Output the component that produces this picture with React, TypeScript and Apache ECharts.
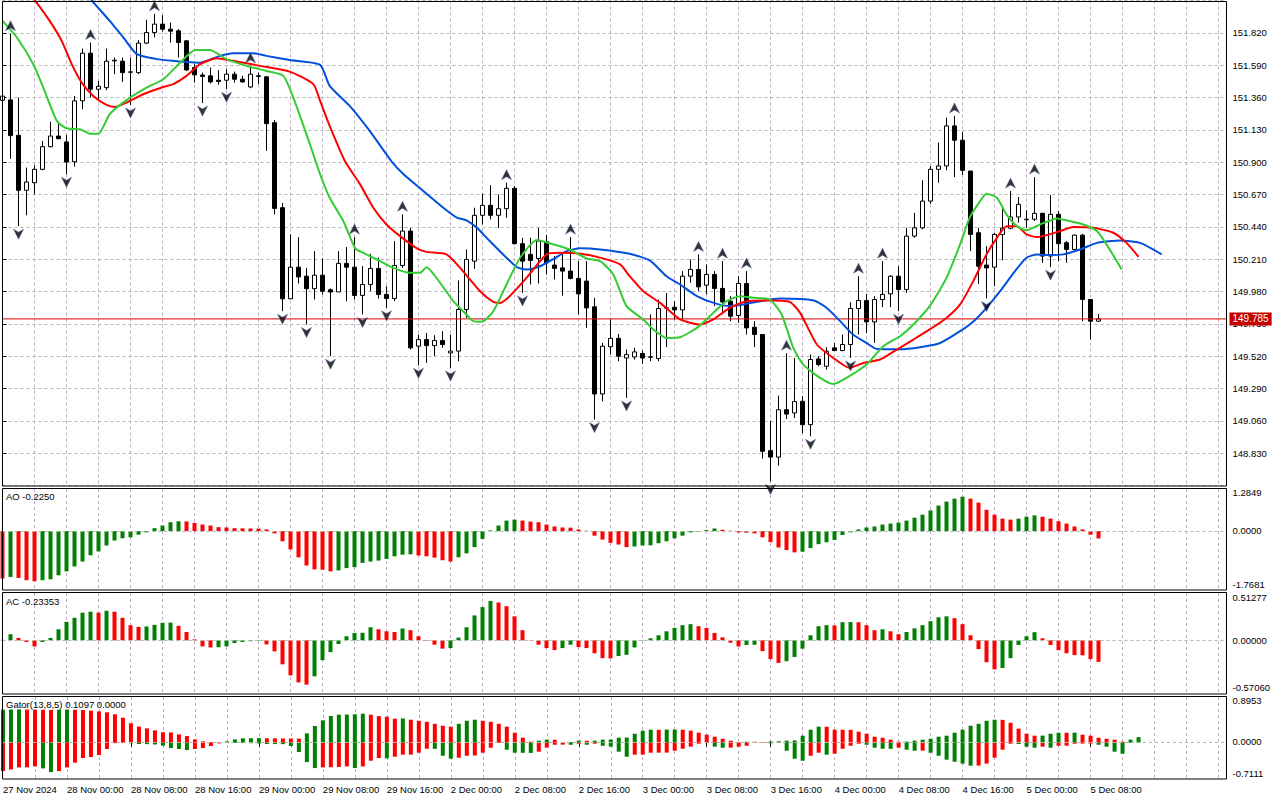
import React, { useEffect, useRef } from "react";
import * as echarts from "echarts";

// ---------- DATA ----------
const NB = 154; // bar slots across the plot (1 bar = 1 hour)

const xTickLabels = [
  "27 Nov 2024", "28 Nov 00:00", "28 Nov 08:00", "28 Nov 16:00", "29 Nov 00:00", "29 Nov 08:00",
  "29 Nov 16:00", "2 Dec 00:00", "2 Dec 08:00", "2 Dec 16:00", "3 Dec 00:00", "3 Dec 08:00",
  "3 Dec 16:00", "4 Dec 00:00", "4 Dec 08:00", "4 Dec 16:00", "5 Dec 00:00", "5 Dec 08:00",
];

// [open, close, low, high]
const candles: number[][] = [
  [151.34, 151.37, 151.30, 151.40], [151.343, 151.089, 150.923, 151.813], [151.091, 150.70, 150.445, 151.359],
  [150.70, 150.759, 150.522, 150.861], [150.754, 150.849, 150.671, 150.878], [150.849, 151.01, 150.842, 151.051],
  [151.01, 151.086, 151.005, 151.188], [151.086, 151.067, 151.063, 151.177], [151.044, 150.901, 150.814, 151.093],
  [150.903, 151.336, 150.868, 151.371], [151.336, 151.675, 151.277, 151.708], [151.675, 151.419, 151.359, 151.751],
  [151.419, 151.44, 151.336, 151.478], [151.43, 151.618, 151.412, 151.708], [151.62, 151.625, 151.526, 151.644],
  [151.618, 151.537, 151.471, 151.644], [151.54, 151.542, 151.307, 151.644], [151.537, 151.747, 151.526, 151.768],
  [151.747, 151.822, 151.74, 151.913], [151.822, 151.882, 151.787, 151.955], [151.882, 151.846, 151.829, 151.946],
  [151.846, 151.832, 151.751, 151.893], [151.834, 151.751, 151.644, 151.846], [151.763, 151.556, 151.549, 151.768],
  [151.573, 151.521, 151.466, 151.597], [151.52, 151.51, 151.32, 151.537], [151.514, 151.471, 151.459, 151.573],
  [151.483, 151.474, 151.45, 151.554], [151.483, 151.526, 151.419, 151.561], [151.526, 151.49, 151.466, 151.544],
  [151.49, 151.471, 151.466, 151.514], [151.435, 151.526, 151.426, 151.585], [151.51, 151.515, 151.455, 151.537],
  [151.507, 151.174, 150.98, 151.514], [151.181, 150.571, 150.529, 151.2], [150.576, 149.928, 149.84, 150.61],
  [149.928, 150.153, 149.93, 150.386], [150.153, 150.084, 150.037, 150.367], [150.089, 150.0, 149.745, 150.148],
  [150.0, 150.096, 149.923, 150.267], [150.096, 149.982, 149.959, 150.215], [149.992, 149.976, 149.52, 150.002],
  [149.977, 150.18, 149.977, 150.267], [150.18, 150.153, 149.911, 150.296], [150.153, 149.952, 149.923, 150.367],
  [149.952, 150.03, 149.817, 150.161], [150.03, 150.144, 149.982, 150.248], [150.144, 149.959, 149.93, 150.22],
  [149.959, 149.93, 149.864, 150.018], [149.93, 150.165, 149.911, 150.339], [150.165, 150.41, 150.148, 150.529],
  [150.41, 149.579, 149.567, 150.433], [149.591, 149.638, 149.455, 149.674], [149.638, 149.595, 149.472, 149.685],
  [149.595, 149.631, 149.52, 149.669], [149.631, 149.603, 149.579, 149.698], [149.543, 149.556, 149.436, 149.674],
  [149.556, 149.852, 149.484, 150.059], [149.852, 150.208, 149.792, 150.279], [150.196, 150.522, 150.141, 150.576],
  [150.522, 150.593, 150.457, 150.676], [150.593, 150.522, 150.493, 150.737], [150.522, 150.569, 150.433, 150.671],
  [150.569, 150.714, 150.504, 150.754], [150.714, 150.32, 150.315, 150.73], [150.32, 150.196, 149.97, 150.362],
  [150.244, 150.201, 150.03, 150.362], [150.215, 150.339, 150.037, 150.433], [150.334, 150.184, 150.101, 150.381],
  [150.168, 150.144, 150.066, 150.232], [150.148, 150.125, 149.95, 150.26], [150.125, 150.073, 150.066, 150.367],
  [150.073, 149.963, 149.817, 150.196], [150.054, 149.863, 149.721, 150.196], [149.871, 149.251, 149.069, 149.935],
  [149.251, 149.591, 149.199, 149.614], [149.587, 149.647, 149.532, 149.781], [149.647, 149.52, 149.484, 149.678],
  [149.507, 149.531, 149.223, 149.567], [149.514, 149.55, 149.496, 149.579], [149.539, 149.507, 149.465, 149.56],
  [149.515, 149.513, 149.484, 149.817], [149.503, 149.859, 149.484, 149.923], [149.862, 149.864, 149.584, 149.97],
  [149.868, 149.849, 149.781, 149.911], [149.849, 150.089, 149.781, 150.125], [150.089, 150.137, 150.042, 150.208],
  [150.137, 150.013, 149.982, 150.244], [150.025, 150.101, 149.959, 150.172], [150.101, 150.002, 149.876, 150.125],
  [150.002, 149.906, 149.817, 150.196], [149.911, 149.804, 149.769, 149.947], [149.809, 150.037, 149.757, 150.089],
  [150.037, 149.721, 149.674, 150.125], [149.726, 149.674, 149.584, 149.769], [149.674, 148.843, 148.791, 149.678],
  [148.848, 148.802, 148.629, 149.061], [148.802, 149.139, 148.741, 149.239], [149.139, 149.108, 149.073, 149.541],
  [149.116, 149.197, 149.08, 149.507], [149.199, 149.033, 148.973, 149.235], [149.033, 149.496, 148.95, 149.532],
  [149.5, 149.46, 149.448, 149.52], [149.448, 149.555, 149.425, 149.584], [149.579, 149.56, 149.56, 149.614],
  [149.56, 149.603, 149.555, 149.674], [149.603, 149.859, 149.507, 149.904], [149.859, 149.916, 149.674, 150.089],
  [149.916, 149.764, 149.685, 149.963], [149.764, 149.923, 149.614, 149.947], [149.923, 149.959, 149.868, 150.196],
  [149.963, 150.089, 149.868, 150.096], [150.089, 149.994, 149.84, 150.16], [149.994, 150.374, 149.97, 150.433],
  [150.374, 150.433, 150.362, 150.54], [150.433, 150.623, 150.422, 150.771], [150.623, 150.849, 150.604, 150.873],
  [150.849, 150.873, 150.754, 151.039], [150.873, 151.158, 150.842, 151.217], [151.158, 151.056, 150.794, 151.229],
  [151.056, 150.842, 150.809, 151.117], [150.837, 150.386, 150.267, 150.837], [150.398, 150.16, 150.034, 150.433],
  [150.168, 150.148, 149.93, 150.303], [150.153, 150.386, 150.018, 150.398], [150.386, 150.43, 150.201, 150.588],
  [150.43, 150.51, 150.422, 150.695], [150.51, 150.6, 150.469, 150.652], [150.49, 150.494, 150.433, 150.557],
  [150.494, 150.536, 150.481, 150.794], [150.536, 150.232, 150.184, 150.54], [150.232, 150.529, 150.153, 150.666],
  [150.529, 150.32, 150.196, 150.552], [150.327, 150.279, 150.184, 150.339], [150.279, 150.381, 150.274, 150.386],
  [150.381, 149.923, 149.769, 150.39], [149.923, 149.769, 149.638, 149.923], [149.769, 149.785, 149.764, 149.82],
];

const lastPrice = 149.785;

const upFractals = [1, 11, 19, 31, 44, 50, 63, 71, 87, 90, 93, 98, 107, 110, 119, 126, 129];
const downFractals = [2, 8, 16, 25, 28, 35, 38, 41, 45, 48, 52, 56, 65, 74, 78, 96, 101, 106, 112, 123, 131];

// Alligator lines: [bar position, price]
const jawPoints = [
  [0, 152.75], [5, 152.45], [9, 152.2], [11.2, 152.048], [13.4, 151.905], [15.1, 151.787], [16.8, 151.668],
  [19.3, 151.633], [21.3, 151.621], [24.7, 151.608], [27.2, 151.656], [28.8, 151.675], [31.3, 151.675],
  [33, 151.656], [35.9, 151.626], [39.7, 151.592], [40.9, 151.443], [43.4, 151.3], [45.9, 151.122],
  [48.6, 150.908], [50.1, 150.816], [52.6, 150.695], [55.1, 150.576], [56.8, 150.505], [58, 150.486],
  [59.3, 150.433], [60.9, 150.339], [63, 150.22], [64.3, 150.153], [65.5, 150.137], [67.2, 150.16],
  [68.8, 150.208], [70.5, 150.267], [72.2, 150.287], [74.7, 150.279], [78.4, 150.248], [80.9, 150.201],
  [83, 150.089], [84.7, 150.03], [86.8, 149.947], [88.9, 149.899], [90.9, 149.876], [92.6, 149.888],
  [94.7, 149.911], [97.2, 149.93], [101.4, 149.916], [103, 149.864], [104.7, 149.769], [106.3, 149.674],
  [108, 149.614], [109.3, 149.571], [112.2, 149.569], [114.7, 149.584], [117.2, 149.614], [119.7, 149.698],
  [121.4, 149.769], [123, 149.864], [124.7, 149.982], [126.4, 150.113], [128, 150.22], [129.3, 150.244],
  [130.5, 150.239], [132.6, 150.244], [134.7, 150.279], [136.8, 150.326], [139.7, 150.343], [142.2, 150.326],
  [144.9, 150.244],
];
const teethPoints = [
  [0, 152.35], [2, 152.2], [4.1, 152.048], [5.9, 151.905], [7.4, 151.763], [8.65, 151.597], [9.9, 151.466],
  [11.35, 151.371], [13, 151.307], [14.1, 151.293], [15.5, 151.324], [17.6, 151.383], [20.1, 151.435],
  [21.35, 151.455], [23, 151.514], [24.7, 151.597], [26.8, 151.64], [28.8, 151.621], [32.2, 151.585],
  [35.9, 151.544], [38.85, 151.455], [39.7, 151.336], [40.9, 151.158], [42.8, 150.908], [44.7, 150.742],
  [46.35, 150.576], [48, 150.457], [49.7, 150.374], [51.8, 150.287], [53, 150.262], [55.5, 150.244],
  [57.2, 150.148], [59.7, 149.982], [61.35, 149.906], [62.2, 149.899], [63.4, 149.947], [65.5, 150.077],
  [68, 150.244], [69.7, 150.255], [72.2, 150.248], [74.7, 150.221], [77.2, 150.173], [78.4, 150.089],
  [80.1, 149.982], [82.2, 149.899], [84.7, 149.781], [87.2, 149.745], [88.85, 149.781], [90.9, 149.864],
  [93, 149.911], [95.5, 149.916], [98.4, 149.906], [99.7, 149.828], [101.8, 149.603], [103.85, 149.507],
  [105.9, 149.436], [107.6, 149.472], [109.7, 149.496], [111.8, 149.567], [113.85, 149.638], [115.9, 149.71],
  [118, 149.792], [119.7, 149.888], [121.35, 150.054], [123, 150.244], [124.3, 150.362], [125.5, 150.445],
  [126.8, 150.445], [128, 150.386], [129.3, 150.367], [130.5, 150.381], [132.2, 150.41], [133.85, 150.438],
  [136.35, 150.433], [138.85, 150.398], [140.5, 150.326], [142, 150.227],
];
const lipsPoints = [
  [0, 151.905], [1.8, 151.787], [3.85, 151.597], [5.1, 151.43], [6.8, 151.193], [8, 151.141], [9.7, 151.134],
  [10.9, 151.103], [12, 151.103], [13.4, 151.241], [15.5, 151.341], [18, 151.43], [20.1, 151.49],
  [22.2, 151.608], [24.1, 151.697], [25.9, 151.697], [28, 151.633], [30.5, 151.585], [33, 151.549],
  [35.1, 151.514], [36.35, 151.359], [38, 151.098], [39.7, 150.814], [40.9, 150.647], [42.6, 150.481],
  [44.1, 150.287], [45.5, 150.244], [47.2, 150.196], [48.85, 150.148], [50.9, 150.113], [52.2, 150.113],
  [53, 150.153], [54.7, 150.042], [56.35, 149.911], [58, 149.816], [58.85, 149.769], [59.9, 149.764],
  [61.35, 149.84], [63, 150.03], [64.7, 150.22], [66.8, 150.346], [68.85, 150.315], [70.9, 150.279],
  [73, 150.215], [74.7, 150.196], [76.35, 150.101], [78, 149.876], [80.1, 149.781], [81.35, 149.71],
  [83, 149.65], [84.7, 149.655], [86.8, 149.721], [88.4, 149.804], [90.5, 149.911], [92.2, 149.947],
  [93.85, 149.935], [95.9, 149.923], [97.4, 149.816], [98.85, 149.579], [100.1, 149.46], [102.2, 149.365],
  [103.85, 149.322], [105.5, 149.365], [108, 149.46], [110.1, 149.591], [112.2, 149.662], [113.85, 149.745],
  [115.9, 149.876], [118, 150.077], [119.7, 150.315], [120.9, 150.505], [122.2, 150.623], [123, 150.676],
  [124.3, 150.647], [125.5, 150.529], [126.8, 150.445], [128, 150.415], [129.7, 150.457], [131.8, 150.5],
  [133.4, 150.481], [135.1, 150.457], [136.8, 150.41], [138, 150.315], [139.9, 150.137],
];

// Awesome Oscillator
const aoValues = [
  -1.45, -1.40, -1.43, -1.50, -1.53, -1.50, -1.47, -1.35, -1.23, -1.08,
  -0.93, -0.74, -0.62, -0.44, -0.29, -0.22, -0.19, -0.11, -0.04, 0.09,
  0.17, 0.27, 0.30, 0.295, 0.25, 0.20, 0.17, 0.12, 0.11, 0.09,
  0.085, 0.08, 0.075, 0.05, -0.07, -0.31, -0.56, -0.80, -1.05, -1.17,
  -1.18, -1.23, -1.20, -1.13, -1.10, -0.97, -0.93, -0.90, -0.85, -0.77,
  -0.72, -0.71, -0.745, -0.77, -0.81, -0.89, -0.93, -0.80, -0.68, -0.49,
  -0.24, 0.02, 0.17, 0.32, 0.35, 0.32, 0.29, 0.27, 0.20, 0.14,
  0.11, 0.105, 0.05, 0.01, -0.14, -0.26, -0.36, -0.41, -0.49, -0.47,
  -0.44, -0.435, -0.37, -0.31, -0.22, -0.14, -0.04, -0.02, 0.03, 0.08,
  0.04, 0.01, -0.04, -0.05, -0.07, -0.19, -0.34, -0.50, -0.58, -0.65,
  -0.63, -0.52, -0.40, -0.34, -0.27, -0.12, -0.04, 0.05, 0.11, 0.14,
  0.20, 0.23, 0.26, 0.32, 0.41, 0.50, 0.63, 0.78, 0.90, 0.99,
  1.05, 0.99, 0.87, 0.65, 0.50, 0.38, 0.35, 0.38, 0.44, 0.48,
  0.44, 0.38, 0.30, 0.23, 0.14, 0.05, -0.11, -0.225,
];
const aoColors = [
  "rgrrrggggg", "gggggggggg", "gggrrrrrrr", "rrrrrrrrrr", "rrgggggggg", "ggrrrrrggg", "gggggrrrrr",
  "rrrrrrrrrg", "gggggggggg", "rrrrrrrrrr", "gggggggggg", "gggggggggg", "grrrrrrggg", "rrrrrrrr",
].join("");

// Accelerator Oscillator
const acValues = [
  0.005, 0.066, 0.026, -0.018, -0.066, -0.018, 0.026, 0.12, 0.20, 0.244,
  0.30, 0.31, 0.30, 0.32, 0.31, 0.244, 0.164, 0.146, 0.15, 0.168,
  0.19, 0.192, 0.157, 0.09, 0.01, -0.066, -0.077, -0.075, -0.066, -0.03,
  -0.018, -0.01, -0.005, -0.044, -0.12, -0.26, -0.38, -0.456, -0.48, -0.39,
  -0.215, -0.128, -0.04, 0.044, 0.08, 0.082, 0.142, 0.12, 0.098, 0.09,
  0.128, 0.11, 0.044, -0.005, -0.047, -0.09, -0.084, 0.03, 0.142, 0.27,
  0.36, 0.427, 0.41, 0.37, 0.26, 0.11, 0.003, -0.047, -0.084, -0.106,
  -0.084, -0.047, -0.073, -0.084, -0.14, -0.193, -0.196, -0.17, -0.157, -0.077,
  0.004, 0.022, 0.055, 0.098, 0.135, 0.164, 0.175, 0.153, 0.135, 0.08,
  0.033, -0.026, -0.066, -0.05, -0.048, -0.117, -0.204, -0.244, -0.226, -0.18,
  -0.09, 0.055, 0.153, 0.164, 0.162, 0.197, 0.198, 0.196, 0.164, 0.11,
  0.12, 0.098, 0.066, 0.09, 0.13, 0.164, 0.208, 0.25, 0.26, 0.24,
  0.175, 0.055, -0.095, -0.237, -0.314, -0.30, -0.193, -0.05, 0.044, 0.088,
  0.022, -0.05, -0.106, -0.14, -0.16, -0.162, -0.204, -0.2335,
];
const acColors = [
  "rgrrrggggg", "ggrgrrrrgg", "ggrrrrrggg", "gggrrrrrrg", "gggggggrrr", "grrrrrgggg", "ggrrrrrrrr",
  "ggrrrrrggg", "gggggggrrr", "rrrggrrrgg", "ggggrggrrr", "grrggggggr", "rrrrrggggg", "rrrrrrrr",
].join("");

// Gator Oscillator
const gatorUp = [
  0.647, 0.65, 0.652, 0.648, 0.646, 0.644, 0.642, 0.645, 0.648, 0.645,
  0.64, 0.627, 0.614, 0.595, 0.556, 0.49, 0.38, 0.314, 0.281, 0.242,
  0.205, 0.20, 0.163, 0.13, 0.065, 0.026, 0.013, 0.006, 0.026, 0.065,
  0.085, 0.087, 0.089, 0.087, 0.085, 0.083, 0.082, 0.08, 0.183, 0.327,
  0.438, 0.523, 0.549, 0.552, 0.556, 0.569, 0.549, 0.52, 0.51, 0.47,
  0.475, 0.45, 0.43, 0.41, 0.37, 0.333, 0.314, 0.37, 0.43, 0.45,
  0.43, 0.41, 0.37, 0.314, 0.196, 0.098, 0.02, 0.04, 0.06, 0.058,
  0.01, 0.015, 0.04, 0.038, 0.04, 0.06, 0.062, 0.098, 0.1, 0.176,
  0.235, 0.255, 0.252, 0.256, 0.258, 0.255, 0.235, 0.196, 0.157, 0.118,
  0.078, 0.04, 0.005, 0.02, 0.018, 0.007, 0.026, 0.028, 0.04, 0.045,
  0.137, 0.255, 0.314, 0.312, 0.255, 0.254, 0.252, 0.216, 0.176, 0.118,
  0.098, 0.06, 0.02, 0.022, 0.04, 0.06, 0.078, 0.118, 0.137, 0.196,
  0.255, 0.333, 0.37, 0.43, 0.45, 0.448, 0.39, 0.275, 0.176, 0.137,
  0.139, 0.176, 0.196, 0.194, 0.197, 0.157, 0.137, 0.098, 0.078, 0.06,
  0.02, 0.06, 0.1097,
];
const gatorUpColors = [
  "gggrrrrggr", "rrrrrrrrrr", "rrrrrrrrgg", "gggrrrrrgg", "ggggggrrrr", "grrrrrrggg", "rrrrrrrggr",
  "rggrgggggg", "ggrggrrrrr", "rrrgrrgggg", "gggrrrrrrr", "rrrggggggg", "gggggrrrrr", "gggrgrrrrr", "rgg",
].join("");
const gatorDown = [
  -0.556, -0.523, -0.484, -0.482, -0.464, -0.503, -0.575, -0.556, -0.484, -0.392,
  -0.30, -0.281, -0.242, -0.124, -0.01, -0.005, -0.012, -0.026, -0.028, -0.035,
  -0.059, -0.105, -0.124, -0.144, -0.124, -0.105, -0.065, -0.013, -0.004, -0.006,
  -0.008, -0.01, -0.015, -0.026, -0.027, -0.028, -0.065, -0.183, -0.379, -0.497,
  -0.484, -0.48, -0.475, -0.464, -0.497, -0.464, -0.353, -0.30, -0.307, -0.275,
  -0.235, -0.233, -0.196, -0.118, -0.12, -0.255, -0.314, -0.294, -0.255, -0.25,
  -0.196, -0.098, -0.005, -0.137, -0.196, -0.198, -0.20, -0.176, -0.098, -0.04,
  -0.038, -0.04, -0.02, -0.04, -0.02, -0.06, -0.078, -0.176, -0.275, -0.235,
  -0.234, -0.196, -0.195, -0.194, -0.157, -0.118, -0.078, -0.02, -0.005, -0.078,
  -0.098, -0.097, -0.078, -0.06, -0.005, -0.003, -0.012, -0.004, -0.157, -0.314,
  -0.353, -0.255, -0.196, -0.235, -0.216, -0.118, -0.06, -0.02, -0.04, -0.098,
  -0.118, -0.12, -0.098, -0.137, -0.157, -0.155, -0.196, -0.255, -0.333, -0.373,
  -0.41, -0.45, -0.448, -0.41, -0.294, -0.137, -0.02, -0.025, -0.078, -0.098,
  -0.078, -0.098, -0.06, -0.058, -0.02, -0.018, -0.016, -0.04, -0.078, -0.176,
  -0.216,
];
const gatorDownColors = [
  "rrrrrggrrr", "rrrrrrgggg", "ggggrrrrrg", "gggggggggg", "rrrrgrrrgr", "rrrrgggrrr", "rrrggggrrr",
  "rgrgrggggr", "rrrrrrrrrg", "grrrrrgrgg", "grrgrrrrgg", "ggrggrgggg", "ggrrrrrggg", "rgrrrrrggg", "g",
].join("");

// ---------- STYLE ----------
const FONT = "'Liberation Sans', Arial, sans-serif";
const FS = 9.5;
const GREEN = "#008000";
const RED = "#ff0000";
const PRICE_RED = "#dd0000";
const VGRID = "#c4aac4";
const HGRID = "#a9bba9";
const GL = 2.5;
const GW = 1224;

const catNames = Array.from({ length: NB }, (_, i) => String(i));
const labelAt = (i: number) => (i % 8 === 0 && i / 8 < xTickLabels.length ? xTickLabels[i / 8] : "");

const colored = (vals: number[], cols: string) =>
  vals.map((v, i) => ({ value: v, itemStyle: { color: cols[i] === "g" ? GREEN : RED } }));

function buildOption(): any {
  const grids = [
    { left: GL, top: 0.5, width: GW, height: 485 },
    { left: GL, top: 489, width: GW, height: 100 },
    { left: GL, top: 593, width: GW, height: 100 },
    { left: GL, top: 697, width: GW, height: 82 },
  ];
  const catAxes = grids.map((_, gi) => ({
    type: "category",
    gridIndex: gi,
    data: catNames,
    boundaryGap: false,
    axisLine: { show: false },
    axisTick: {
      show: gi === 3,
      interval: (i: number) => i > 0 && labelAt(i) !== "",
      length: 4,
      lineStyle: { color: "#000" },
    },
    axisLabel: {
      show: gi === 3,
      interval: (i: number) => labelAt(i) !== "",
      formatter: (_v: string, i: number) => labelAt(i),
      align: "left",
      margin: 5,
      color: "#000",
      fontFamily: FONT,
      fontSize: FS,
    },
    splitLine: {
      show: true,
      interval: (i: number) => i > 0 && i % 4 === 0,
      lineStyle: { color: VGRID, type: [3, 3], width: 1 },
    },
  }));
  const valueX = { type: "value", gridIndex: 0, min: 0, max: NB - 1, show: false };

  const subY = (gi: number, min: number, max: number) => ({
    type: "value", gridIndex: gi, min, max, position: "right",
    axisLine: { show: false }, axisTick: { show: false }, axisLabel: { show: false }, splitLine: { show: false },
  });

  const zeroLine = {
    symbol: "none", silent: true, animation: false,
    label: { show: false },
    lineStyle: { color: HGRID, type: [3, 3], width: 1 },
    data: [{ yAxis: 0 }],
  };

  const frame = (y: number, h: number) => ({
    type: "rect", z: 100, silent: true,
    shape: { x: 2.5, y, width: GW, height: h },
    style: { fill: "none", stroke: "#000", lineWidth: 1 },
  });
  const txt = (text: string, x: number, y: number) => ({
    type: "text", z: 101, silent: true, x, y,
    style: { text, fill: "#000", font: `${FS}px ${FONT}`, verticalAlign: "middle", align: "left" },
  });

  return {
    animation: false,
    backgroundColor: "#ffffff",
    textStyle: { fontFamily: FONT, fontSize: FS },
    grid: grids,
    xAxis: [...catAxes, valueX],
    yAxis: [
      {
        type: "value", gridIndex: 0, position: "right",
        min: 148.6, max: 152.05, interval: 0.23,
        axisLine: { show: false },
        axisTick: { show: true, length: 4, lineStyle: { color: "#000" } },
        axisLabel: {
          color: "#000", fontFamily: FONT, fontSize: FS, margin: 6,
          showMinLabel: false, showMaxLabel: false,
          formatter: (v: number) => v.toFixed(3),
        },
        splitLine: { show: true, lineStyle: { color: HGRID, type: [3, 3], width: 1 } },
      },
      subY(1, -1.7681, 1.2849),
      subY(2, -0.5706, 0.51277),
      subY(3, -0.7111, 0.8953),
    ],
    series: [
      {
        type: "candlestick", name: "price", xAxisIndex: 0, yAxisIndex: 0,
        data: candles, barWidth: 5, z: 2,
        itemStyle: { color: "#ffffff", color0: "#000000", borderColor: "#000000", borderColor0: "#000000", borderWidth: 1 },
      },
      {
        type: "line", name: "Price line", xAxisIndex: 4, yAxisIndex: 0, z: 3,
        data: [[0, lastPrice], [NB - 1, lastPrice]],
        showSymbol: false, symbol: "none", silent: true,
        itemStyle: { color: PRICE_RED },
        lineStyle: { color: PRICE_RED, width: 1, type: "solid" },
        endLabel: {
          show: true, distance: 3,
          formatter: () => lastPrice.toFixed(3),
          color: "#ffffff", backgroundColor: "#c40000",
          padding: [2, 3, 1, 3], fontFamily: FONT, fontSize: 10,
        },
      },
      {
        type: "line", name: "Jaw", xAxisIndex: 4, yAxisIndex: 0, data: jawPoints,
        showSymbol: false, smooth: 0.2, z: 4, lineStyle: { color: "#0050dc", width: 2 },
      },
      {
        type: "line", name: "Teeth", xAxisIndex: 4, yAxisIndex: 0, data: teethPoints,
        showSymbol: false, smooth: 0.2, z: 4, lineStyle: { color: "#ff0000", width: 2 },
      },
      {
        type: "line", name: "Lips", xAxisIndex: 4, yAxisIndex: 0, data: lipsPoints,
        showSymbol: false, smooth: 0.2, z: 4, lineStyle: { color: "#33cc33", width: 2 },
      },
      {
        type: "scatter", name: "Fractal up", xAxisIndex: 4, yAxisIndex: 0, z: 5,
        data: upFractals.map((k) => [k, candles[k][3]]),
        symbol: "path://M5,0 L10,10 L5,7 L0,10 Z", symbolSize: [10, 10], symbolOffset: [0, -8],
        itemStyle: { color: "#000000", borderColor: "#4a5a9a", borderWidth: 0.6 },
      },
      {
        type: "scatter", name: "Fractal down", xAxisIndex: 4, yAxisIndex: 0, z: 5,
        data: downFractals.map((k) => [k, candles[k][2]]),
        symbol: "path://M0,0 L5,3 L10,0 L5,10 Z", symbolSize: [10, 10], symbolOffset: [0, 8],
        itemStyle: { color: "#000000", borderColor: "#4a5a9a", borderWidth: 0.6 },
      },
      {
        type: "bar", name: "AO", xAxisIndex: 1, yAxisIndex: 1, barWidth: 4,
        data: colored(aoValues, aoColors), markLine: zeroLine,
      },
      {
        type: "bar", name: "AC", xAxisIndex: 2, yAxisIndex: 2, barWidth: 4,
        data: colored(acValues, acColors), markLine: zeroLine,
      },
      {
        type: "bar", name: "GatorUp", xAxisIndex: 3, yAxisIndex: 3, barWidth: 4, barGap: "-100%",
        data: colored(gatorUp, gatorUpColors), markLine: zeroLine,
      },
      {
        type: "bar", name: "GatorDown", xAxisIndex: 3, yAxisIndex: 3, barWidth: 4, barGap: "-100%",
        data: colored(gatorDown, gatorDownColors),
      },
    ],
    graphic: {
      elements: [
        frame(1.5, 484.5),
        frame(488.5, 101.5),
        frame(592.5, 101.5),
        frame(696.5, 82.5),
        txt("AO -0.2250", 6, 496.5),
        txt("AC -0.23353", 6, 601.5),
        txt("Gator(13,8,5) 0.1097 0.0000", 6, 704.5),
        txt("1.2849", 1232.5, 492.5),
        txt("0.0000", 1232.5, 530),
        txt("-1.7681", 1232.5, 584.5),
        txt("0.51277", 1232.5, 597),
        txt("0.00000", 1232.5, 640),
        txt("-0.57060", 1232.5, 687.5),
        txt("0.8953", 1232.5, 700.5),
        txt("0.0000", 1232.5, 741.5),
        txt("-0.7111", 1232.5, 773.5),
      ],
    },
  };
}

export default function App() {
  const ref = useRef<HTMLDivElement>(null);
  useEffect(() => {
    if (!ref.current) return;
    const chart = echarts.init(ref.current, undefined, { renderer: "svg" });
    chart.setOption(buildOption());
    return () => chart.dispose();
  }, []);
  return (
    <div
      ref={ref}
      style={{ position: "absolute", left: 0, top: 0, width: 1280, height: 800, background: "#ffffff" }}
    />
  );
}
